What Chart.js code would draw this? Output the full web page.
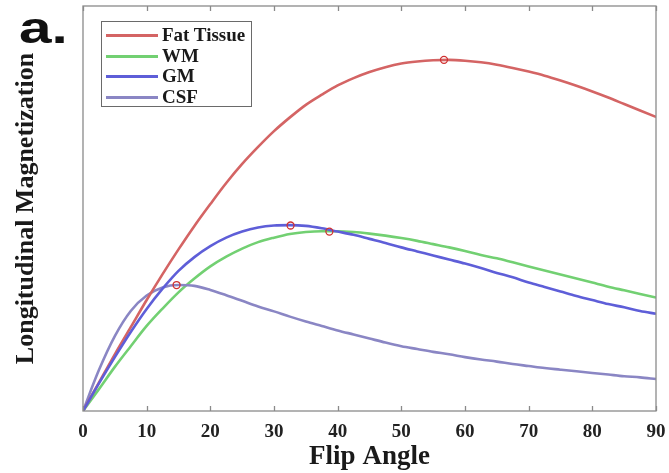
<!DOCTYPE html>
<html>
<head>
<meta charset="utf-8">
<script src="https://cdn.jsdelivr.net/npm/chart.js@4/dist/chart.umd.min.js"></script>
<style>
  html, body { margin: 0; padding: 0; background: #fff; }
  #wrap { position: relative; width: 669px; height: 473px; }
  canvas { position: absolute; left: 0; top: 0; }
  #panel { position: absolute; left: 19px; top: 5px; font: bold 45px "Liberation Sans", Arial, sans-serif; line-height: 45px; color: #111; transform: scaleX(1.3); transform-origin: 0 0; }
  #legend { position: absolute; left: 101px; top: 21px; width: 151px; height: 86px; border: 1px solid #6a6a6a; background: #fff; box-sizing: border-box; }
  .row { position: absolute; left: 0; height: 20px; width: 150px; }
  .sw { position: absolute; left: 4px; top: 9px; width: 52px; height: 3px; }
  .lb { position: absolute; left: 60px; top: 0; font: bold 19px "Liberation Serif", "Times New Roman", serif; line-height: 20px; color: #1a1a1a; white-space: nowrap; }
</style>
</head>
<body>
<div id="wrap">
  <canvas id="c" width="669" height="473"></canvas>
  <div id="panel">a.</div>
  <div id="legend"></div>
</div>
<script>
// ---- data (flip angle step 2.5 deg) ----
const angles = [0, 2.5, 5, 7.5, 10, 12.5, 15, 17.5, 20, 22.5, 25, 27.5, 30, 32.5, 35, 37.5, 40, 42.5, 45, 47.5, 50, 52.5, 55, 57.5, 60, 62.5, 65, 67.5, 70, 72.5, 75, 77.5, 80, 82.5, 85, 87.5, 90];
const fatTissue = [0, .070, .140, .207, .274, .338, .399, .457, .511, .563, .610, .652, .691, .725, .756, .781, .804, .822, .837, .849, .858, .863, .866, .867, .865, .861, .855, .847, .838, .828, .816, .803, .789, .774, .758, .742, .726];
const wm = [0, .054, .109, .160, .210, .253, .293, .327, .357, .381, .401, .417, .428, .437, .442, .444, .444, .442, .438, .433, .427, .420, .412, .404, .395, .385, .377, .367, .357, .347, .337, .327, .317, .307, .298, .289, .280];
const gm = [0, .068, .133, .195, .252, .302, .346, .380, .407, .428, .443, .453, .458, .459, .457, .451, .443, .435, .425, .415, .404, .394, .384, .374, .364, .353, .341, .330, .317, .306, .295, .284, .274, .264, .256, .247, .240];
const csf = [0, .101, .185, .247, .285, .305, .311, .309, .299, .286, .272, .258, .246, .233, .221, .210, .199, .189, .179, .169, .160, .153, .146, .140, .133, .127, .122, .116, .111, .106, .102, .098, .094, .090, .086, .083, .079];
const peakAngles = [56.7, 38.7, 32.6, 14.7];
const peakValues = [.867, .443, .458, .311];
const seriesNames = ['Fat Tissue', 'WM', 'GM', 'CSF'];
const xTicks = [0, 10, 20, 30, 40, 50, 60, 70, 80, 90];
const xTitle = 'Flip Angle';
const yTitle = 'Longitudinal Magnetization';

const colors = ['#d46464', '#72d072', '#5e5ed8', '#8a86c4'];
const seriesValues = [fatTissue, wm, gm, csf];
const drawOrder = [2, 4, 1, 3];

const pts = vals => angles.map((a, i) => ({ x: a, y: vals[i] }));

const datasets = seriesValues.map((vals, i) => ({
  label: seriesNames[i],
  data: pts(vals),
  borderColor: colors[i],
  backgroundColor: colors[i],
  borderWidth: 2.6,
  pointRadius: 0,
  fill: false,
  cubicInterpolationMode: 'monotone',
  order: drawOrder[i]
}));
datasets.push({
  label: 'peaks',
  type: 'scatter',
  data: peakAngles.map((a, i) => ({ x: a, y: peakValues[i] })),
  showLine: false,
  pointStyle: 'circle',
  pointRadius: 3.5,
  borderWidth: 1.3,
  borderColor: '#d03030',
  backgroundColor: 'rgba(0,0,0,0)',
  order: 0
});

const framePlugin = {
  id: 'frame',
  afterDatasetsDraw(chart) {
    const { ctx, chartArea: a, scales: { x } } = chart;
    ctx.save();
    ctx.strokeStyle = '#8a8a8a';
    ctx.lineWidth = 1.3;
    ctx.strokeRect(a.left, a.top, a.right - a.left, a.bottom - a.top);
    ctx.beginPath();
    xTicks.forEach(v => {
      const px = Math.round(x.getPixelForValue(v)) + 0.5;
      ctx.moveTo(px, a.bottom); ctx.lineTo(px, a.bottom - 5);
      ctx.moveTo(px, a.top); ctx.lineTo(px, a.top + 5);
    });
    ctx.stroke();
    ctx.restore();
  }
};

const serif = '"Liberation Serif", "Times New Roman", serif';

new Chart(document.getElementById('c'), {
  type: 'line',
  data: { datasets },
  options: {
    responsive: false,
    animation: false,
    devicePixelRatio: 1,
    layout: { padding: { left: 0, right: 13, top: 6, bottom: 0 } },
    plugins: { legend: { display: false }, tooltip: { enabled: false } },
    scales: {
      x: {
        type: 'linear', min: 0, max: 90,
        afterBuildTicks: s => { s.ticks = xTicks.map(v => ({ value: v })); },
        afterFit: s => { s.height = 62; s.paddingLeft = 0; s.paddingRight = 0; },
        grid: { display: false, drawTicks: false },
        border: { display: false },
        ticks: { padding: 10, color: '#222', font: { family: serif, weight: 'bold', size: 19 }, maxRotation: 0, autoSkip: false },
        title: { display: true, text: xTitle, color: '#1a1a1a', font: { family: serif, weight: 'bold', size: 27, lineHeight: 1 }, padding: { top: 0, bottom: 2 } }
      },
      y: {
        min: 0, max: 1,
        afterFit: s => { s.width = 83; s.paddingTop = 0; s.paddingBottom = 0; },
        grid: { display: false, drawTicks: false },
        border: { display: false },
        ticks: { display: false },
        title: { display: true, text: yTitle, color: '#1a1a1a', font: { family: serif, weight: 'bold', size: 26, lineHeight: 1 }, padding: { top: 13, bottom: 0 } }
      }
    }
  },
  plugins: [framePlugin]
});

// legend (HTML, real text)
const lg = document.getElementById('legend');
seriesNames.forEach((n, i) => {
  const r = document.createElement('div');
  r.className = 'row';
  r.style.top = (3 + i * 20.7) + 'px';
  r.innerHTML = '<div class="sw" style="background:' + colors[i] + '"></div><div class="lb">' + n + '</div>';
  lg.appendChild(r);
});
</script>
</body>
</html>
